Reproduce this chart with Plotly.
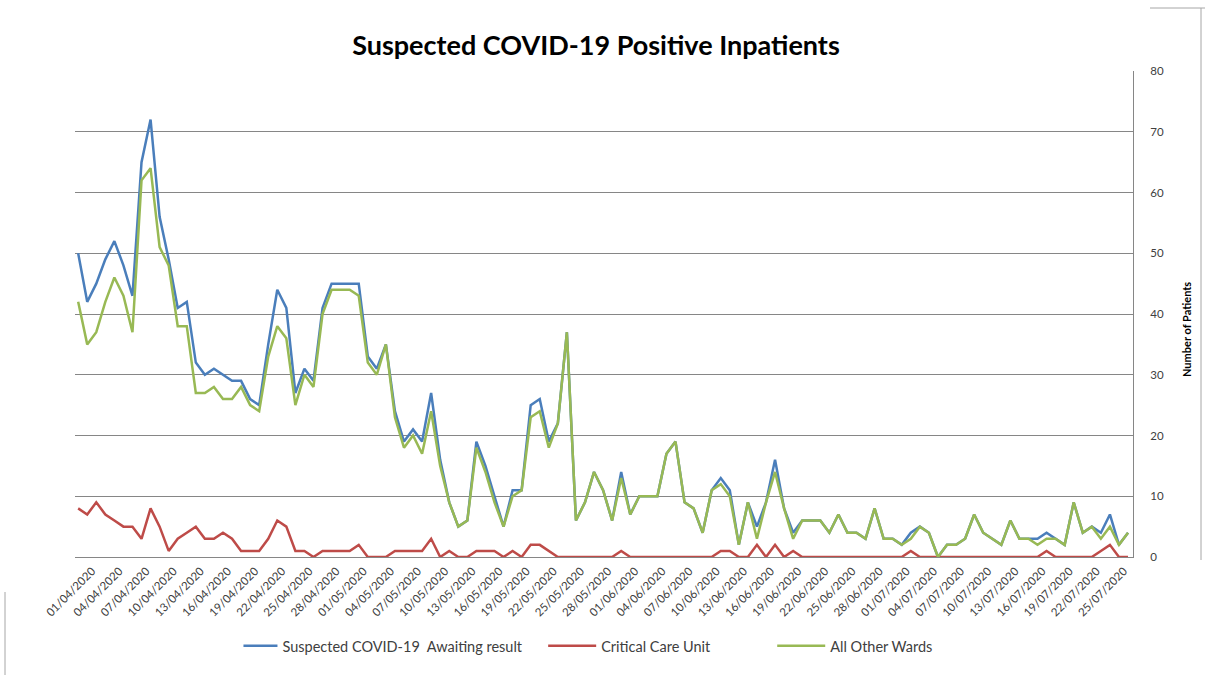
import pandas as pd
import plotly.graph_objects as go

# Daily categories 01/04/2020 - 27/07/2020 (no return for 31/05/2020)
dates = [d for d in pd.date_range("2020-04-01", "2020-07-27") if d != pd.Timestamp("2020-05-31")]
categories = [d.strftime("%d/%m/%Y") for d in dates]

awaiting_result = [
    50, 42, 45, 49, 52, 48, 43, 65, 72, 56, 49, 41, 42, 32, 30, 31, 30, 29, 29, 26,
    25, 35, 44, 41, 27, 31, 29, 41, 45, 45, 45, 45, 33, 31, 35, 24, 19, 21, 19, 27,
    16, 9, 5, 6, 19, 15, 10, 5, 11, 11, 25, 26, 19, 22, 37, 6, 9, 14, 11, 6,
    14, 7, 10, 10, 10, 17, 19, 9, 8, 4, 11, 13, 11, 2, 9, 5, 9, 16, 8, 4,
    6, 6, 6, 4, 7, 4, 4, 3, 8, 3, 3, 2, 4, 5, 4, 0, 2, 2, 3, 7,
    4, 3, 2, 6, 3, 3, 3, 4, 3, 2, 9, 4, 5, 4, 7, 2, 4,
]
critical_care = [
    8, 7, 9, 7, 6, 5, 5, 3, 8, 5, 1, 3, 4, 5, 3, 3, 4, 3, 1, 1,
    1, 3, 6, 5, 1, 1, 0, 1, 1, 1, 1, 2, 0, 0, 0, 1, 1, 1, 1, 3,
    0, 1, 0, 0, 1, 1, 1, 0, 1, 0, 2, 2, 1, 0, 0, 0, 0, 0, 0, 0,
    1, 0, 0, 0, 0, 0, 0, 0, 0, 0, 0, 1, 1, 0, 0, 2, 0, 2, 0, 1,
    0, 0, 0, 0, 0, 0, 0, 0, 0, 0, 0, 0, 1, 0, 0, 0, 0, 0, 0, 0,
    0, 0, 0, 0, 0, 0, 0, 1, 0, 0, 0, 0, 0, 1, 2, 0, 0,
]
other_wards = [
    42, 35, 37, 42, 46, 43, 37, 62, 64, 51, 48, 38, 38, 27, 27, 28, 26, 26, 28, 25,
    24, 33, 38, 36, 25, 30, 28, 40, 44, 44, 44, 43, 32, 30, 35, 23, 18, 20, 17, 24,
    15, 9, 5, 6, 18, 14, 9, 5, 10, 11, 23, 24, 18, 22, 37, 6, 9, 14, 11, 6,
    13, 7, 10, 10, 10, 17, 19, 9, 8, 4, 11, 12, 10, 2, 9, 3, 9, 14, 8, 3,
    6, 6, 6, 4, 7, 4, 4, 3, 8, 3, 3, 2, 3, 5, 4, 0, 2, 2, 3, 7,
    4, 3, 2, 6, 3, 3, 2, 3, 3, 2, 9, 4, 5, 3, 5, 2, 4,
]

tick_labels = categories[::3]
y_ticks = [0, 10, 20, 30, 40, 50, 60, 70, 80]

# (legend name, values, colour, legend slot, legend x in paper units, item width)
series = [
    ("Suspected COVID-19  Awaiting result", awaiting_result, "#4A7EBB", "legend", 0.1545, 34),
    ("Critical Care Unit", critical_care, "#BE4B48", "legend2", 0.4425, 48),
    ("All Other Wards", other_wards, "#98B954", "legend3", 0.6590, 48),
]

fig = go.Figure()
legend_layout = {}
for name, values, colour, slot, lx, iw in series:
    fig.add_trace(go.Scatter(
        x=categories, y=values, name=name, mode="lines",
        line=dict(color=colour, width=2.5), legend=slot,
    ))
    legend_layout[slot] = dict(
        orientation="h", x=lx, xanchor="left", y=-0.183, yanchor="middle",
        font=dict(size=14.5, color="#404040"), itemwidth=iw,
        bgcolor="rgba(0,0,0,0)",
    )

# Chart-area frame segments (pixel coordinates of the page)
W, H = 1205, 675
frame = [
    (1201, 8, 1201, 560),
    (1150, 8, 1205, 8),
    (5, 592, 5, 675),
]
shapes = [
    dict(type="line", xref="paper", yref="paper",
         x0=(x0 - 75) / 1058, x1=(x1 - 75) / 1058,
         y0=(557 - y0) / 486, y1=(557 - y1) / 486,
         line=dict(color="#A6A6A6", width=1))
    for x0, y0, x1, y1 in frame
]

fig.update_layout(
    width=W, height=H,
    margin=dict(l=75, r=72, t=71, b=118),
    paper_bgcolor="white", plot_bgcolor="white",
    font=dict(family="Lato, Carlito, Calibri, sans-serif", color="#404040"),
    title=dict(
        text="<b>Suspected COVID-19 Positive Inpatients</b>",
        x=0.4924, xanchor="center", xref="paper", y=0.933, yanchor="middle",
        font=dict(size=27, color="#000000", family="Lato, Carlito, sans-serif"),
    ),
    showlegend=True,
    shapes=shapes,
    **legend_layout,
)

fig.update_xaxes(
    type="category", categoryorder="array", categoryarray=categories,
    range=[-0.35, len(categories) - 1 + 0.55],
    tickmode="array", tickvals=tick_labels, ticktext=tick_labels,
    tickangle=-45, tickfont=dict(size=11.5, color="#404040"),
    ticklabelshift=14, ticklabelstandoff=2,
    showgrid=False, showline=True, linecolor="#868686", linewidth=1,
    ticks="", zeroline=False,
)
fig.update_yaxes(
    side="right", range=[0, 80], tickvals=y_ticks,
    tickfont=dict(size=11.5, color="#404040"),
    ticklabelstandoff=14,
    showgrid=True, gridcolor="#868686", gridwidth=1,
    showline=True, linecolor="#868686", linewidth=1, mirror=False,
    ticks="", zeroline=False,
)

fig.add_annotation(
    text="<b>Number of Patients</b>", textangle=-90,
    xref="paper", yref="paper", x=(1186 - 75) / 1058, y=(557 - 330) / 486,
    xanchor="center", yanchor="middle", showarrow=False,
    font=dict(size=11, color="#000000"),
)

fig.write_html("out.html")
